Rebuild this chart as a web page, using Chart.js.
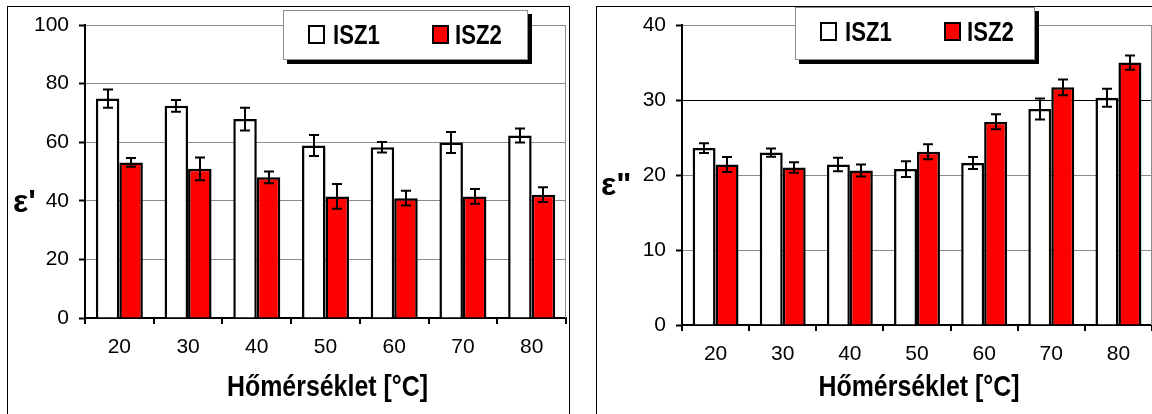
<!DOCTYPE html>
<html><head><meta charset="utf-8">
<script src="https://cdn.jsdelivr.net/npm/chart.js@4.4.1/dist/chart.umd.min.js"></script>
<style>
body{margin:0;width:1152px;height:414px;overflow:hidden;background:#fff;position:relative;font-family:'Liberation Sans',Arial,sans-serif}
.box{position:absolute;border:1px solid #000;box-sizing:border-box}
canvas{position:absolute;top:0}
.legend{position:absolute;background:#fff;border:1px solid #8c8c8c;box-shadow:4px 4px 0 #000;box-sizing:border-box}
.legend .sw{position:absolute;width:17px;height:19px;border:2px solid #000;box-sizing:border-box}
.legend .tx{position:absolute;font:bold 27px 'Liberation Sans',sans-serif;line-height:27px;color:#000;transform:scaleX(0.82);transform-origin:0 50%;white-space:nowrap}
.ylab{position:absolute;font:bold 32px 'Liberation Sans',sans-serif;line-height:32px;color:#000}
</style></head>
<body>
<div class="box" style="left:7px;top:6px;width:563px;height:430px"></div>
<div class="box" style="left:596px;top:6px;width:600px;height:430px"></div>
<canvas id="cL" width="580" height="414" style="left:0"></canvas>
<canvas id="cR" width="572" height="414" style="left:580px"></canvas>
<div class="ylab" style="left:13px;top:185px">ε'</div>
<div class="ylab" style="left:601px;top:168px">ε"</div>
<div class="legend" id="legL" style="left:283px;top:10px;width:245px;height:50px"></div>
<div class="legend" id="legR" style="left:795px;top:7px;width:240px;height:53px"></div>
<script>
// ---- data ----
const categories = ['20','30','40','50','60','70','80'];
const seriesNames = ['ISZ1','ISZ2'];
const seriesColors = ['#ffffff','#ff0000'];
// left chart: ε'
const epsIsz1    = [74.9, 72.4, 67.9, 58.9, 58.3, 59.9, 62.3];
const epsIsz1Err = [3.1, 2.0, 3.9, 3.6, 1.8, 3.6, 2.4];
const epsIsz2    = [53.1, 50.9, 48.0, 41.5, 40.9, 41.5, 42.1];
const epsIsz2Err = [1.5, 3.9, 2.0, 4.2, 2.5, 2.5, 2.5];
// right chart: ε"
const lossIsz1    = [23.6, 23.0, 21.4, 20.8, 21.6, 28.8, 30.3];
const lossIsz1Err = [0.65, 0.55, 0.9, 1.05, 0.8, 1.4, 1.2];
const lossIsz2    = [21.4, 21.0, 20.6, 23.1, 27.1, 31.7, 35.0];
const lossIsz2Err = [1.0, 0.7, 0.8, 1.0, 1.0, 1.05, 0.95];
const epsAxis  = {min:0, max:100, step:20};
const lossAxis = {min:0, max:40, step:10};
const xTitle = 'Hőmérséklet [°C]';

Chart.defaults.color = '#000';
Chart.defaults.font.family = "'Liberation Sans', Arial, sans-serif";

const errorBars = {
  id:'errorBars',
  afterDatasetsDraw(chart){
    const ctx = chart.ctx, y = chart.scales.y;
    chart.data.datasets.forEach((ds,i)=>{
      const meta = chart.getDatasetMeta(i);
      meta.data.forEach((bar,j)=>{
        const v = ds.data[j], e = ds.errors[j];
        const yt = y.getPixelForValue(v+e), yb = y.getPixelForValue(v-e);
        const x = Math.round(bar.x);
        ctx.save();
        ctx.strokeStyle = '#000'; ctx.lineWidth = 2;
        ctx.beginPath();
        ctx.moveTo(x, yt); ctx.lineTo(x, yb);
        ctx.moveTo(x-5, yt); ctx.lineTo(x+5, yt);
        ctx.moveTo(x-5, yb); ctx.lineTo(x+5, yb);
        ctx.stroke();
        ctx.restore();
      });
    });
  }
};
const plotBorder = {
  id:'plotBorder',
  beforeDatasetsDraw(chart){
    const {ctx, chartArea:a} = chart;
    ctx.save(); ctx.strokeStyle = '#8c8c8c'; ctx.lineWidth = 1;
    ctx.beginPath(); ctx.moveTo(a.right-0.5, a.top); ctx.lineTo(a.right-0.5, a.bottom); ctx.stroke();
    ctx.restore();
  }
};
// axis title drawn in a condensed (narrow) style, as in the original
const xTitleNarrow = {
  id:'xTitleNarrow',
  afterDraw(chart){
    const s = chart.scales.x, ctx = chart.ctx;
    ctx.save();
    ctx.font = "bold 30px 'Liberation Sans', Arial, sans-serif";
    ctx.fillStyle = '#000'; ctx.textAlign = 'center'; ctx.textBaseline = 'middle';
    ctx.translate((s.left + s.right)/2 + 2, 388);
    ctx.scale(0.83, 1);
    ctx.fillText(xTitle, 0, 0);
    ctx.restore();
  }
};

function makeChart(id, s1, e1, s2, e2, ax, yW, xH, padR, blackLine){
  return new Chart(document.getElementById(id), {
    type:'bar',
    data:{
      labels:categories,
      datasets:[
        {label:seriesNames[0], data:s1, errors:e1, backgroundColor:seriesColors[0], borderColor:'#000', borderWidth:2.5},
        {label:seriesNames[1], data:s2, errors:e2, backgroundColor:seriesColors[1], borderColor:'#000', borderWidth:2.5}
      ]
    },
    options:{
      responsive:false, animation:false, devicePixelRatio:1,
      layout:{padding:{left:0, top:25, right:padR, bottom:0}},
      datasets:{bar:{categoryPercentage:0.684, barPercentage:1.0}},
      plugins:{legend:{display:false}, tooltip:{enabled:false}},
      scales:{
        x:{
          afterFit(s){ s.height = xH; },
          grid:{offset:true, drawOnChartArea:false, drawTicks:true, tickLength:6, tickColor:'#000', tickWidth:2, color:'#000', lineWidth:2},
          border:{display:true, color:'#000', width:2},
          ticks:{font:{size:21}, padding:11, color:'#000', maxRotation:0},
          title:{display:false, text:xTitle}
        },
        y:{
          min:ax.min, max:ax.max,
          afterFit(s){ s.width = yW; },
          ticks:{stepSize:ax.step, font:{size:21}, padding:10, color:'#000'},
          grid:{color:(c)=> (c.tick && c.tick.value===blackLine) ? '#000' : '#8c8c8c', lineWidth:1, tickLength:6, tickColor:'#000', tickWidth:2},
          border:{display:true, color:'#000', width:2}
        }
      }
    },
    plugins:[plotBorder, errorBars, xTitleNarrow]
  });
}

makeChart('cL', epsIsz1, epsIsz1Err, epsIsz2, epsIsz2Err, epsAxis, 85, 96, 14, null);
makeChart('cR', lossIsz1, lossIsz1Err, lossIsz2, lossIsz2Err, lossAxis, 102, 89, 0, 30);

function buildLegend(id){
  const el = document.getElementById(id);
  const xs = [[24,49],[148,171]];
  seriesNames.forEach((n,i)=>{
    const sw = document.createElement('div'); sw.className='sw';
    sw.style.left = xs[i][0]+'px'; sw.style.top = '14px'; sw.style.background = seriesColors[i];
    const tx = document.createElement('div'); tx.className='tx';
    tx.style.left = xs[i][1]+'px'; tx.style.top = '11px'; tx.textContent = n;
    el.appendChild(sw); el.appendChild(tx);
  });
}
buildLegend('legL'); buildLegend('legR');
</script>
</body></html>
